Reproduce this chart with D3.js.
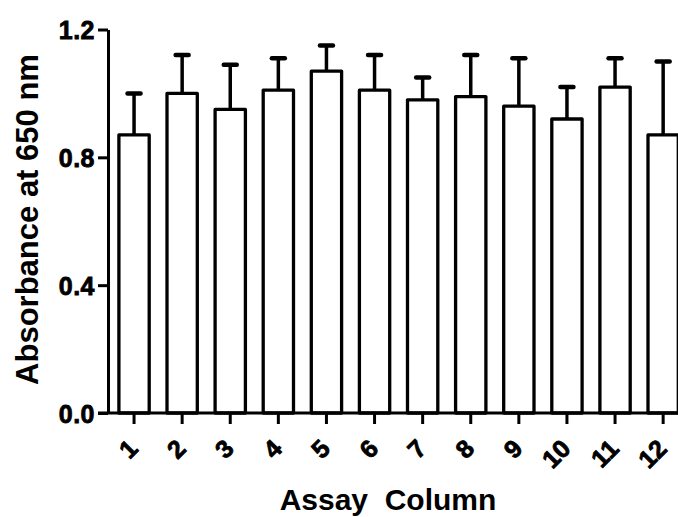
<!DOCTYPE html>
<html>
<head>
<meta charset="utf-8">
<script src="https://cdnjs.cloudflare.com/ajax/libs/d3/7.8.5/d3.min.js"></script>
<style>
  body { margin: 0; background: #fff; }
  text { font-family: "Liberation Sans", Arial, sans-serif; font-weight: bold; fill: #000; }
</style>
</head>
<body>
<div id="chart"></div>
<script>
// assay columns and mean absorbance with SD
var columns = ["1", "2", "3", "4", "5", "6", "7", "8", "9", "10", "11", "12"];
var absorbance = [0.87, 1.00, 0.95, 1.01, 1.07, 1.01, 0.98, 0.99, 0.96, 0.92, 1.02, 0.87];
var errors = [0.13, 0.12, 0.14, 0.10, 0.08, 0.11, 0.07, 0.13, 0.15, 0.10, 0.09, 0.23];
var yTicks = [0.0, 0.4, 0.8, 1.2];

var width = 678, height = 517;

var svg = d3.select("#chart").append("svg")
  .attr("width", width)
  .attr("height", height);

var xScale = d3.scaleBand()
  .domain(columns)
  .range([110, 687.2])
  .paddingInner(0.37)
  .paddingOuter(0.185);

var yScale = d3.scaleLinear()
  .domain([0, 1.2])
  .range([413, 29.5]);

var data = columns.map(function(c, i) {
  return { col: c, val: absorbance[i], err: errors[i] };
});

// error bars (drawn first, bar outline sits over the stem)
svg.selectAll(".stem")
  .data(data)
  .enter().append("line")
  .attr("x1", function(d) { return xScale(d.col) + xScale.bandwidth() / 2; })
  .attr("x2", function(d) { return xScale(d.col) + xScale.bandwidth() / 2; })
  .attr("y1", function(d) { return yScale(d.val); })
  .attr("y2", function(d) { return yScale(d.val + d.err); })
  .style("stroke", "#000")
  .style("stroke-width", 3.5);

svg.selectAll(".cap")
  .data(data)
  .enter().append("line")
  .attr("x1", function(d) { return xScale(d.col) + xScale.bandwidth() / 2 - 6.5; })
  .attr("x2", function(d) { return xScale(d.col) + xScale.bandwidth() / 2 + 6.5; })
  .attr("y1", function(d) { return yScale(d.val + d.err); })
  .attr("y2", function(d) { return yScale(d.val + d.err); })
  .style("stroke", "#000")
  .style("stroke-width", 4.5)
  .style("stroke-linecap", "round");

// bars
svg.selectAll(".bar")
  .data(data)
  .enter().append("rect")
  .attr("x", function(d) { return xScale(d.col); })
  .attr("width", xScale.bandwidth())
  .attr("y", function(d) { return yScale(d.val); })
  .attr("height", function(d) { return yScale(0) - yScale(d.val); })
  .style("fill", "#fff")
  .style("stroke", "#000")
  .style("stroke-width", 3.3)
  .style("stroke-linejoin", "round");

// y axis
var yAxis = svg.append("g")
  .attr("transform", "translate(108,0)")
  .call(d3.axisLeft(yScale).tickValues(yTicks).tickFormat(d3.format(".1f")).tickSize(10).tickPadding(3).tickSizeOuter(0));
yAxis.select(".domain").style("stroke-width", 3);
yAxis.selectAll(".tick line").style("stroke-width", 3);
yAxis.selectAll(".tick text")
  .style("font-size", "25px")
  .style("letter-spacing", "0.5px")
  .style("stroke", "#000")
  .style("stroke-width", 0.8)
  .attr("dy", "0.36em");

// x axis
var xAxis = svg.append("g")
  .attr("transform", "translate(0,413)")
  .call(d3.axisBottom(xScale).tickSize(11).tickSizeOuter(0));
xAxis.select(".domain").attr("d", "M98,0H690").style("stroke-width", 3);
xAxis.selectAll(".tick line").style("stroke-width", 3);
xAxis.selectAll(".tick text")
  .style("font-size", "25px")
  .style("stroke", "#000")
  .style("stroke-width", 0.8)
  .attr("text-anchor", "end")
  .attr("y", 0)
  .attr("dy", "0.35em")
  .attr("transform", "translate(-1,31) rotate(-45)");

// axis titles
svg.append("text")
  .attr("transform", "translate(38,219.5) rotate(-90)")
  .attr("text-anchor", "middle")
  .style("font-size", "31px")
  .text("Absorbance at 650 nm");

svg.append("text")
  .attr("x", 388)
  .attr("y", 510)
  .attr("text-anchor", "middle")
  .style("font-size", "30px")
  .style("white-space", "pre")
  .text("Assay  Column");
</script>
</body>
</html>
